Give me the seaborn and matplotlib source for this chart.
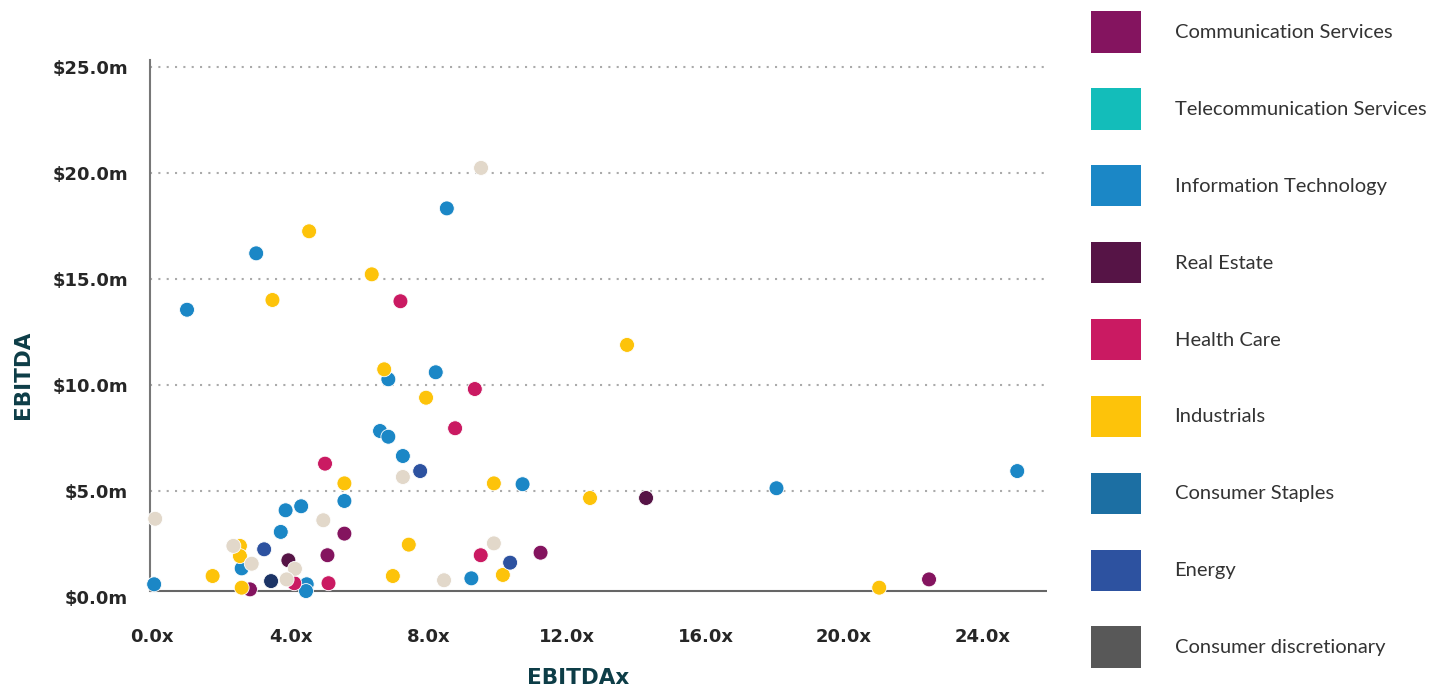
import numpy as np
import pandas as pd
import matplotlib.pyplot as plt
import seaborn as sns
from matplotlib.patches import Patch

sns.set_style("white")
plt.rcParams['font.family'] = ['DejaVu Sans']

sectors = ["Communication Services", "Telecommunication Services", "Information Technology",
           "Real Estate", "Health Care", "Industrials", "Consumer Staples", "Energy",
           "Consumer discretionary"]
legend_colors = ["#84145f", "#13bdba", "#1b87c6", "#561446", "#ca1a62",
                 "#fdc30a", "#1c6fa3", "#2d52a0", "#585858"]
point_colors = ["#84145f", "#13bdba", "#1b87c6", "#561446", "#ca1a62",
                "#fdc30a", "#1c3466", "#2d52a0", "#e2d8ca"]

# EBITDAx (x) and EBITDA in $m (y)
comm_x = [5.56, 5.07, 11.23, 2.83, 22.46]
comm_y = [2.99, 1.97, 2.09, 0.36, 0.83]

telecom_x = []
telecom_y = []

it_x = [1.01, 3.01, 8.52, 6.83, 8.20, 6.59, 6.83, 7.25, 10.71, 18.05,
        25.01, 5.56, 4.31, 3.86, 3.72, 2.59, 9.23, 4.47, 4.45, 0.06]
it_y = [13.55, 16.21, 18.33, 10.27, 10.60, 7.83, 7.56, 6.65, 5.32, 5.13,
        5.94, 4.53, 4.28, 4.09, 3.07, 1.35, 0.88, 0.60, 0.28, 0.60]

re_x = [14.28, 3.94]
re_y = [4.67, 1.73]

hc_x = [7.18, 9.33, 8.76, 5.00, 9.50, 4.11, 5.10]
hc_y = [13.95, 9.81, 7.96, 6.29, 1.97, 0.65, 0.65]

ind_x = [3.48, 4.54, 6.35, 6.71, 7.92, 13.73, 5.56, 9.88, 12.66, 7.42,
         2.54, 2.54, 1.75, 6.96, 10.14, 2.59, 21.02]
ind_y = [14.01, 17.25, 15.22, 10.74, 9.40, 11.89, 5.36, 5.36, 4.67, 2.47,
         2.41, 1.93, 0.99, 0.99, 1.04, 0.44, 0.44]

staples_x = [3.44]
staples_y = [0.75]

energy_x = [7.75, 3.24, 10.35]
energy_y = [5.94, 2.25, 1.62]

disc_x = [9.51, 7.25, 0.09, 4.95, 9.88, 2.35, 2.88, 4.13, 3.89, 8.44]
disc_y = [20.24, 5.66, 3.69, 3.62, 2.53, 2.41, 1.57, 1.33, 0.83, 0.79]

x_ticks = [0, 4, 8, 12, 16, 20, 24]
x_tick_labels = ["0.0x", "4.0x", "8.0x", "12.0x", "16.0x", "20.0x", "24.0x"]
y_ticks = [0, 5, 10, 15, 20, 25]
y_tick_labels = ["$0.0m", "$5.0m", "$10.0m", "$15.0m", "$20.0m", "$25.0m"]

all_x = [comm_x, telecom_x, it_x, re_x, hc_x, ind_x, staples_x, energy_x, disc_x]
all_y = [comm_y, telecom_y, it_y, re_y, hc_y, ind_y, staples_y, energy_y, disc_y]
frames = []
for name, xs, ys in zip(sectors, all_x, all_y):
    frames.append(pd.DataFrame({"EBITDAx": xs, "EBITDA": ys, "sector": name}))
df = pd.concat(frames, ignore_index=True)

fig = plt.figure(figsize=(14.5, 6.86), dpi=100)
ax = fig.add_axes([150 / 1450, 1 - 597 / 686, 897 / 1450, 537 / 686])

sns.scatterplot(data=df, x="EBITDAx", y="EBITDA", hue="sector", hue_order=sectors,
                palette=dict(zip(sectors, point_colors)), s=115,
                edgecolor="white", linewidth=0.6, legend=False, ax=ax,
                clip_on=False, zorder=3)

# spines first: moving a spine resets the ticks
for side in ["top", "right"]:
    ax.spines[side].set_visible(False)
ax.spines["bottom"].set_position(("outward", 8))
ax.spines["bottom"].set_color("none")
ax.spines["left"].set_color("#777777")
ax.spines["left"].set_linewidth(1.5)

ax.set_xlim(-0.06, 25.87)
ax.set_ylim(0, 25.33)
ax.spines["left"].set_bounds(0.3, 25.33)

ax.set_xticks(x_ticks, labels=x_tick_labels, fontweight="bold", fontsize=13)
ax.set_yticks(y_ticks, labels=y_tick_labels, fontweight="bold", fontsize=13)
ax.tick_params(axis="x", length=7, width=1.2, color="#555555", pad=7)
ax.tick_params(axis="y", length=0, pad=16)

ax.yaxis.grid(True, linestyle=(0, (1, 3)), color="#aaaaaa", linewidth=1.5)
ax.xaxis.grid(False)
ax.yaxis.get_gridlines()[0].set_visible(False)

ax.axhline(0.3, color="#666666", linewidth=1.5, zorder=1)

ax.set_xlabel("EBITDAx", fontsize=15.5, fontweight="bold", color="#0d3d47")
ax.set_ylabel("EBITDA", fontsize=15.5, fontweight="bold", color="#0d3d47")
ax.xaxis.set_label_coords(0.477, -0.132)
ax.yaxis.set_label_coords(-0.130, 0.413)

handles = [Patch(facecolor=c, edgecolor="none", label=s) for s, c in zip(sectors, legend_colors)]
fig.legend(handles=handles, loc="upper left", bbox_to_anchor=(1091 / 1450, 1 - 11 / 686),
           frameon=False, prop={"family": "Lato", "size": 14.5}, labelcolor="#333333",
           handlelength=2.5, handleheight=2.8, labelspacing=1.755, handletextpad=1.65,
           borderpad=0, borderaxespad=0)

fig.savefig("out.png", dpi=100, facecolor="white")
